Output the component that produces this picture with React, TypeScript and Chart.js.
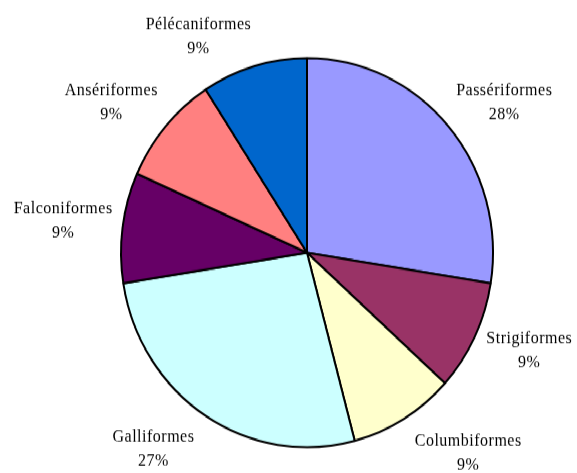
import React, { useEffect, useRef } from "react";
import { Chart, registerables } from "chart.js";

Chart.register(...registerables);

// ---- data ----
const categories = [
  "Passériformes",
  "Strigiformes",
  "Columbiformes",
  "Galliformes",
  "Falconiformes",
  "Ansériformes",
  "Pélécaniformes",
];
const counts = [30, 10, 10, 29, 10, 10, 10];
const colors = ["#9999FF", "#993366", "#FFFFCC", "#CCFFFF", "#660066", "#FF8080", "#0066CC"];

// ---- layout ----
const W = 577;
const H = 473;
const STRETCH = 1.046;
const IH = Math.round(H / STRETCH);
const RADIUS = 186;
const LABEL_GAP = 10;
const FONT = '16px "Liberation Serif", "Times New Roman", serif';
const CAP = 10.6;
const LINE_GAP = 23;
const LABEL_LIFT = 3;

const clamp = (v: number) => Math.max(-1, Math.min(1, v));

const labelPlugin = {
  id: "outsideLabels",
  afterDatasetsDraw(chart: any) {
    const ctx = chart.ctx as CanvasRenderingContext2D;
    const meta = chart.getDatasetMeta(0);
    const total = counts.reduce((a, b) => a + b, 0);
    ctx.save();
    ctx.font = FONT;
    (ctx as any).letterSpacing = "0.5px";
    ctx.fillStyle = "#000";
    ctx.textAlign = "center";
    ctx.textBaseline = "alphabetic";
    meta.data.forEach((arc: any, i: number) => {
      const { x, y, startAngle, endAngle, outerRadius } = arc.getProps(
        ["x", "y", "startAngle", "endAngle", "outerRadius"],
        true
      );
      const mid = (startAngle + endAngle) / 2;
      const c = Math.cos(mid);
      const s = Math.sin(mid);
      const line1 = categories[i];
      const line2 = Math.round((counts[i] / total) * 100) + "%";
      const w = Math.max(ctx.measureText(line1).width, ctx.measureText(line2).width);
      const h = CAP + LINE_GAP;
      const r = outerRadius + LABEL_GAP + 15 * Math.pow(Math.max(0, s), 2);
      const px = x + r * c;
      const py = y + r * s;
      const cx = px + (w / 2) * clamp(4 * c);
      const cy = py + (h / 2) * clamp(1.3 * s) - LABEL_LIFT;
      const top = cy - h / 2;
      ctx.fillText(line1, cx, top + CAP);
      ctx.fillText(line2, cx, top + CAP + LINE_GAP);
    });
    ctx.restore();
  },
};

export default function App() {
  const ref = useRef<HTMLCanvasElement>(null);
  useEffect(() => {
    const chart = new Chart(ref.current as HTMLCanvasElement, {
      type: "pie",
      data: {
        labels: categories,
        datasets: [
          {
            data: counts,
            backgroundColor: colors,
            borderColor: "#000",
            borderWidth: 2,
            radius: RADIUS,
          } as any,
        ],
      },
      options: {
        responsive: false,
        animation: false,
        events: [],
        layout: { padding: { left: 37, top: 31, right: 0, bottom: 0 } },
        plugins: {
          legend: { display: false },
          tooltip: { enabled: false },
        },
      },
      plugins: [labelPlugin],
    });
    return () => chart.destroy();
  }, []);
  return (
    <div
      style={{
        position: "fixed",
        left: 0,
        top: 0,
        width: W,
        height: IH,
        transform: `scaleY(${H / IH})`,
        transformOrigin: "0 0",
        background: "#fff",
      }}
    >
      <canvas ref={ref} width={W} height={IH} style={{ display: "block" }} />
    </div>
  );
}
